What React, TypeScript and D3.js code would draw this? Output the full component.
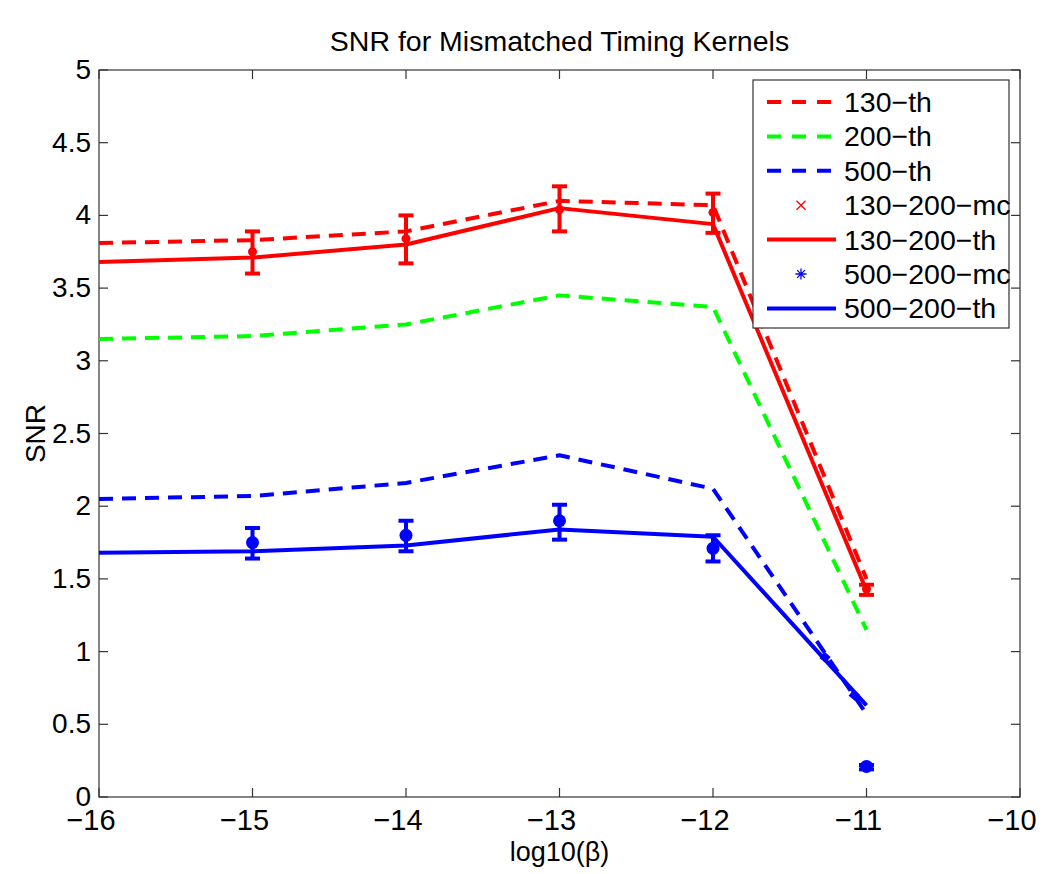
import React, { useEffect, useRef } from 'react';
import * as d3 from 'd3';

// log10(beta) positions
const betas = [-16, -15, -14, -13, -12, -11];
const mcBetas = [-15, -14, -13, -12, -11];

// theoretical curves
const th130 = [3.81, 3.83, 3.89, 4.10, 4.07, 1.50];
const th200 = [3.15, 3.17, 3.25, 3.45, 3.37, 1.15];
const th500 = [2.05, 2.07, 2.16, 2.35, 2.12, 0.57];
const th130_200 = [3.68, 3.71, 3.80, 4.05, 3.94, 1.42];
const th500_200 = [1.68, 1.69, 1.73, 1.84, 1.79, 0.63];

// monte carlo: mean, low, high
const mc130_200 = [3.75, 3.84, 4.04, 4.02, 1.43];
const mc130_200Lo = [3.60, 3.67, 3.89, 3.88, 1.39];
const mc130_200Hi = [3.89, 4.00, 4.20, 4.15, 1.46];
const mc500_200 = [1.75, 1.80, 1.90, 1.71, 0.21];
const mc500_200Lo = [1.64, 1.69, 1.77, 1.62, 0.19];
const mc500_200Hi = [1.85, 1.90, 2.01, 1.80, 0.22];

// small extra blue marks seen on the 500-200 descent
const blobBetas = [-11.27, -11.08];
const blobVals = [0.96, 0.70];

const xTicks = [-16, -15, -14, -13, -12, -11, -10];
const yTicks = [0, 0.5, 1, 1.5, 2, 2.5, 3, 3.5, 4, 4.5, 5];

const legendItems = [
  { label: '130−th', color: '#ff0000', kind: 'dash' },
  { label: '200−th', color: '#00ff00', kind: 'dash' },
  { label: '500−th', color: '#0000ff', kind: 'dash' },
  { label: '130−200−mc', color: '#ff0000', kind: 'x' },
  { label: '130−200−th', color: '#ff0000', kind: 'solid' },
  { label: '500−200−mc', color: '#0000ff', kind: 'star' },
  { label: '500−200−th', color: '#0000ff', kind: 'solid' },
];

const FONT = "'Liberation Sans', Arial, Helvetica, sans-serif";

export default function App() {
  const ref = useRef<SVGSVGElement>(null);

  useEffect(() => {
    const svg = d3.select(ref.current);
    svg.selectAll('*').remove();

    const margin = { top: 70, right: 30, bottom: 77, left: 99 };
    const W = 1050, H = 874;
    const x = d3.scaleLinear().domain([-16, -10]).range([margin.left, W - margin.right]);
    const y = d3.scaleLinear().domain([0, 5]).range([H - margin.bottom, margin.top]);
    const axisColor = '#333';
    const fmt = (d: number) => String(d).replace('-', '−');

    svg.append('rect').attr('width', W).attr('height', H).attr('fill', 'white');

    // axes box
    svg.append('rect')
      .attr('x', x(-16)).attr('y', y(5))
      .attr('width', x(-10) - x(-16)).attr('height', y(0) - y(5))
      .attr('fill', 'none').attr('stroke', axisColor).attr('stroke-width', 1.2);

    const tl = 9;
    xTicks.forEach(t => {
      svg.append('line').attr('x1', x(t)).attr('x2', x(t)).attr('y1', y(0)).attr('y2', y(0) - tl)
        .attr('stroke', axisColor).attr('stroke-width', 1.2);
      svg.append('line').attr('x1', x(t)).attr('x2', x(t)).attr('y1', y(5)).attr('y2', y(5) + tl)
        .attr('stroke', axisColor).attr('stroke-width', 1.2);
      svg.append('text').attr('x', x(t) - 8).attr('y', y(0) + 33)
        .attr('text-anchor', 'middle').style('font-family', FONT).style('font-size', '29px')
        .text(fmt(t));
    });
    yTicks.forEach(t => {
      svg.append('line').attr('x1', x(-16)).attr('x2', x(-16) + tl).attr('y1', y(t)).attr('y2', y(t))
        .attr('stroke', axisColor).attr('stroke-width', 1.2);
      svg.append('line').attr('x1', x(-10)).attr('x2', x(-10) - tl).attr('y1', y(t)).attr('y2', y(t))
        .attr('stroke', axisColor).attr('stroke-width', 1.2);
      svg.append('text').attr('x', x(-16) - 8).attr('y', y(t) + 9)
        .attr('text-anchor', 'end').style('font-family', FONT).style('font-size', '28px')
        .text(fmt(t));
    });

    const line = d3.line<[number, number]>().x(d => x(d[0])).y(d => y(d[1]));
    const pts = (vals: number[], xs = betas) => xs.map((b, i) => [b, vals[i]] as [number, number]);

    const drawLine = (vals: number[], color: string, dashed: boolean) => {
      svg.append('path').attr('d', line(pts(vals)))
        .attr('fill', 'none').attr('stroke', color).attr('stroke-width', 4)
        .attr('stroke-dasharray', dashed ? '14,9' : null)
        .attr('stroke-linejoin', 'round');
    };

    const drawErr = (mean: number[], lo: number[], hi: number[], color: string, r: number) => {
      const g = svg.append('g');
      mcBetas.forEach((b, i) => {
        g.append('line').attr('x1', x(b)).attr('x2', x(b)).attr('y1', y(lo[i])).attr('y2', y(hi[i]))
          .attr('stroke', color).attr('stroke-width', 4);
        [lo[i], hi[i]].forEach(v => {
          g.append('line').attr('x1', x(b) - 7.5).attr('x2', x(b) + 7.5).attr('y1', y(v)).attr('y2', y(v))
            .attr('stroke', color).attr('stroke-width', 4);
        });
        g.append('circle').attr('cx', x(b)).attr('cy', y(mean[i])).attr('r', r).attr('fill', color);
      });
    };

    drawLine(th130, '#ff0000', true);
    drawLine(th200, '#00ff00', true);
    drawLine(th500, '#0000ff', true);
    drawErr(mc130_200, mc130_200Lo, mc130_200Hi, '#ff0000', 4.5);
    drawLine(th130_200, '#ff0000', false);
    drawErr(mc500_200, mc500_200Lo, mc500_200Hi, '#0000ff', 6.5);
    blobBetas.forEach((b, i) => {
      svg.append('rect').attr('x', x(b) - 4).attr('y', y(blobVals[i]) - 4)
        .attr('width', 8).attr('height', 8).attr('fill', '#0000ff')
        .attr('transform', `rotate(40,${x(b)},${y(blobVals[i])})`);
    });
    drawLine(th500_200, '#0000ff', false);

    // legend
    const lx = 753, ly = 80, lw = 256, lh = 248;
    svg.append('rect').attr('x', lx).attr('y', ly).attr('width', lw).attr('height', lh)
      .attr('fill', 'white').attr('stroke', axisColor).attr('stroke-width', 1.2);
    legendItems.forEach((it, i) => {
      const cy = 102 + i * 34.4;
      if (it.kind === 'dash' || it.kind === 'solid') {
        svg.append('line').attr('x1', 767).attr('x2', 836).attr('y1', cy).attr('y2', cy)
          .attr('stroke', it.color).attr('stroke-width', 4)
          .attr('stroke-dasharray', it.kind === 'dash' ? '14,11' : null);
      } else if (it.kind === 'x') {
        const s = 4.5;
        svg.append('path').attr('d', `M${801 - s},${cy - s}L${801 + s},${cy + s}M${801 - s},${cy + s}L${801 + s},${cy - s}`)
          .attr('stroke', it.color).attr('stroke-width', 1.3);
      } else {
        const s = 5.5;
        let d = '';
        for (let k = 0; k < 4; k++) {
          const a = (k * Math.PI) / 4;
          d += `M${801 - s * Math.cos(a)},${cy - s * Math.sin(a)}L${801 + s * Math.cos(a)},${cy + s * Math.sin(a)}`;
        }
        svg.append('path').attr('d', d).attr('stroke', it.color).attr('stroke-width', 1.3);
      }
      svg.append('text').attr('x', 844).attr('y', cy + 10)
        .style('font-family', FONT).style('font-size', '28.5px').text(it.label);
    });

    // titles
    svg.append('text').attr('x', (x(-16) + x(-10)) / 2).attr('y', 51)
      .attr('text-anchor', 'middle').style('font-family', FONT).style('font-size', '28.5px')
      .text('SNR for Mismatched Timing Kernels');
    svg.append('text').attr('x', (x(-16) + x(-10)) / 2).attr('y', 861)
      .attr('text-anchor', 'middle').style('font-family', FONT).style('font-size', '27px')
      .text('log10(β)');
    svg.append('text').attr('transform', `translate(45,${(y(0) + y(5)) / 2}) rotate(-90)`)
      .attr('text-anchor', 'middle').style('font-family', FONT).style('font-size', '28px')
      .text('SNR');
  }, []);

  return (
    <div style={{ position: 'absolute', left: 0, top: 0 }}>
      <svg ref={ref} width={1050} height={874} style={{ display: 'block' }} />
    </div>
  );
}
